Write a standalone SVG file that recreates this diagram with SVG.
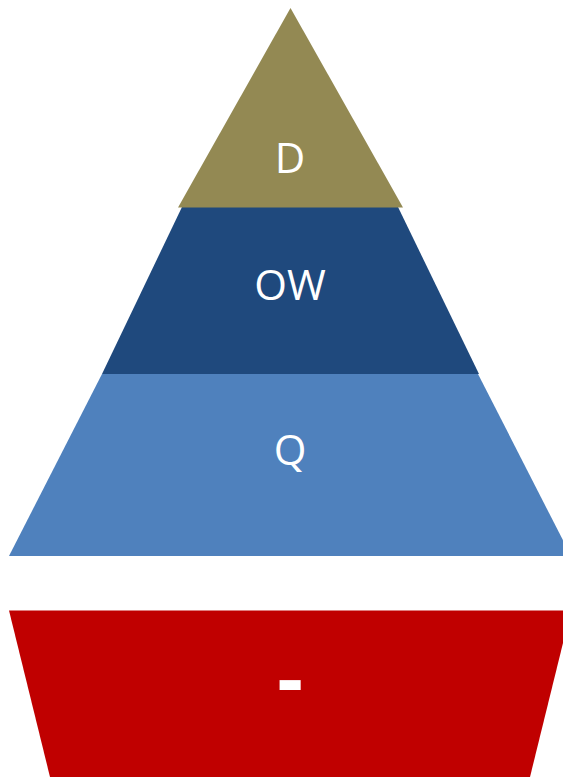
<svg xmlns="http://www.w3.org/2000/svg" width="563" height="777" viewBox="0 0 563 777">
  <style>
    .lbl { font-family: "Open Sans", "Noto Sans", sans-serif; font-size: 42px; fill: #ffffff; text-anchor: middle; }
    .dash { font-family: "Open Sans", "Noto Sans", sans-serif; font-weight: bold; font-size: 80px; fill: #ffffff; text-anchor: middle; }
  </style>
  <rect width="563" height="777" fill="#ffffff"/>
  <g id="tier-q">
    <polygon points="102,374 478,374 571,556 9,556" fill="#4F81BD"/>
    <text class="lbl" x="290" y="465">Q</text>
  </g>
  <g id="tier-ow">
    <polygon points="182,207 398,207 479,374 102,374" fill="#1F497D"/>
    <text class="lbl" x="290" y="300">OW</text>
  </g>
  <g id="tier-d">
    <polygon points="290.5,8 403,207.5 178,207.5" fill="#938953"/>
    <text class="lbl" x="290" y="173">D</text>
  </g>
  <g id="base">
    <polygon points="9,610.5 571,610.5 530,777 50,777" fill="#C00000"/>
    <text class="dash" x="290" y="707">-</text>
  </g>
  <g id="connectors"/>
</svg>
